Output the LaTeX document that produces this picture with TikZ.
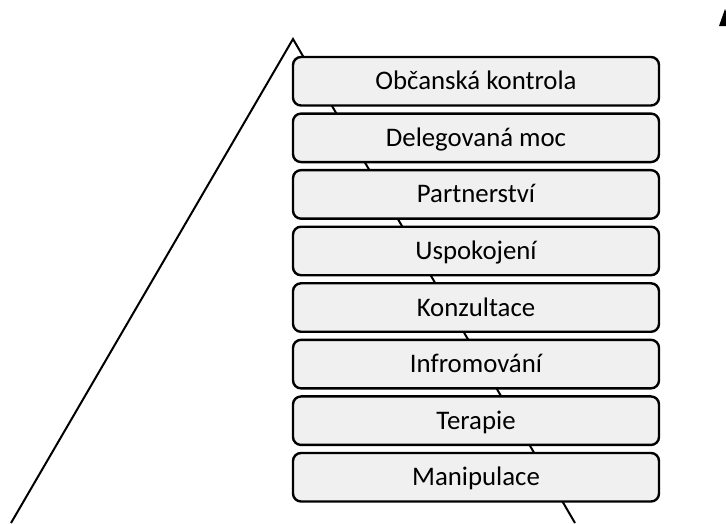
\documentclass[tikz,border=0pt]{standalone}
\usepackage{fontspec}
\setmainfont{Carlito}
\definecolor{boxfill}{HTML}{F0F0F0}
\begin{document}
\begin{tikzpicture}[x=1pt,y=-1pt,
  rung/.style={draw=black, line width=2.4pt, fill=boxfill, rounded corners=8pt,
    minimum width=366pt, minimum height=48.5pt, inner sep=0pt,
    text height=17.2pt, text depth=0pt, font=\fontsize{26.8}{30}\selectfont},
  leg/.style={line width=2pt}]
\useasboundingbox (0,0) rectangle (726,523);
\coordinate (apex) at (293,39);
\coordinate (bl) at (11,523);
\coordinate (br) at (575,523);
\draw[leg] (bl) -- (apex) -- (br);
\fill (719,26) -- (725,9) -- (731,26) -- cycle;
\foreach \t [count=\i from 0] in {Občanská kontrola, Delegovaná moc, Partnerství, Uspokojení, Konzultace, Infromování, Terapie, Manipulace} {
  \pgfmathsetmacro\yy{57+\i*56.57+24.25}
  \node[rung] (r\i) at (476,\yy) {\t};
}
\end{tikzpicture}
\end{document}
